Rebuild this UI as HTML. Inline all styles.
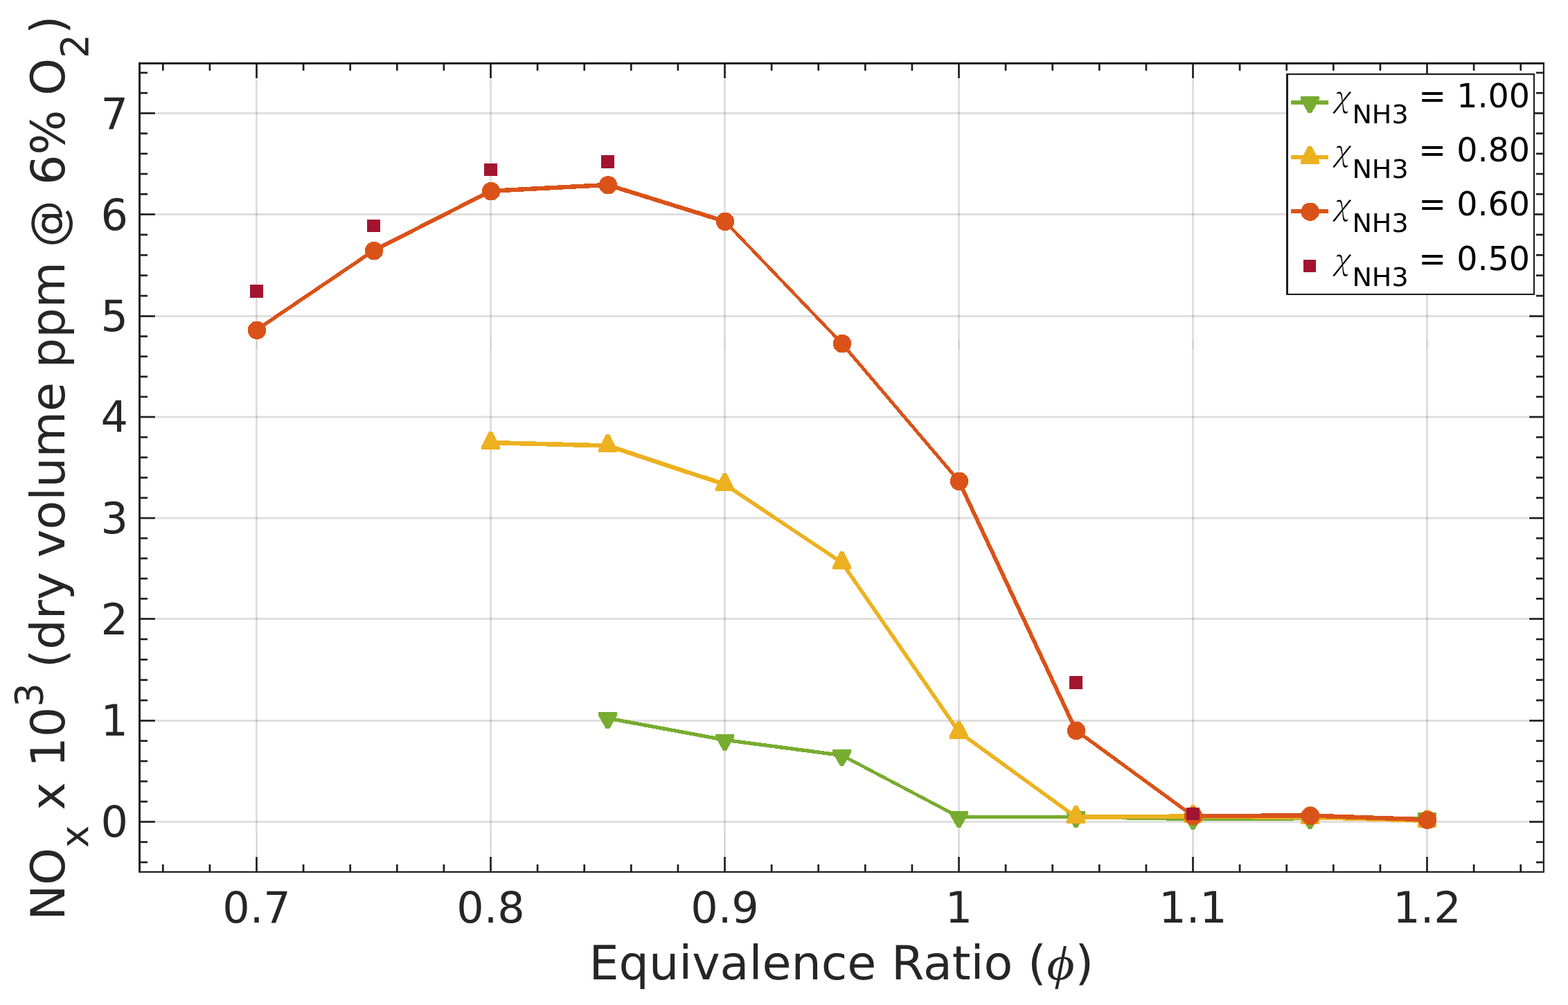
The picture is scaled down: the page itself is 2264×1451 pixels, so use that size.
<!DOCTYPE html>
<html lang="en"><head><meta charset="utf-8"><title>NOx vs Equivalence Ratio</title>
<style>html,body{margin:0;padding:0;background:#fff;overflow:hidden;}svg{display:block;}text{font-family:'DejaVu Sans','Liberation Sans',sans-serif;}</style></head><body>
<svg width="2264" height="1451" viewBox="0 0 2264 1451">
<rect x="0" y="0" width="2264" height="1451" fill="#ffffff"/>
<g stroke="#262626" stroke-opacity="0.15" stroke-width="3" fill="none"><line x1="370.50" y1="114" x2="370.50" y2="1201.8"/><line x1="708.50" y1="114" x2="708.50" y2="1201.8"/><line x1="1046.50" y1="114" x2="1046.50" y2="1201.8"/><line x1="1384.50" y1="114" x2="1384.50" y2="1201.8"/><line x1="1722.50" y1="114" x2="1722.50" y2="1201.8"/><line x1="2060.50" y1="114" x2="2060.50" y2="1201.8"/><line x1="225" y1="1186.50" x2="2207" y2="1186.50"/><line x1="225" y1="1040.50" x2="2207" y2="1040.50"/><line x1="225" y1="893.50" x2="2207" y2="893.50"/><line x1="225" y1="748.00" x2="2207" y2="748.00"/><line x1="225" y1="602.00" x2="2207" y2="602.00"/><line x1="225" y1="456.50" x2="2207" y2="456.50"/><line x1="225" y1="309.50" x2="2207" y2="309.50"/><line x1="225" y1="163.50" x2="2207" y2="163.50"/></g><g fill="#262626"><rect x="369.00" y="1201.8" width="3" height="34.2" fill-opacity="0.085"/><rect x="370.00" y="1201.8" width="1" height="34.2" fill-opacity="0.2"/><rect x="370.00" y="491" width="1" height="13" fill-opacity="0.13"/><rect x="707.00" y="1201.8" width="3" height="34.2" fill-opacity="0.085"/><rect x="708.00" y="1201.8" width="1" height="34.2" fill-opacity="0.2"/><rect x="708.00" y="491" width="1" height="13" fill-opacity="0.13"/><rect x="1045.00" y="1201.8" width="3" height="34.2" fill-opacity="0.085"/><rect x="1046.00" y="1201.8" width="1" height="34.2" fill-opacity="0.2"/><rect x="1046.00" y="491" width="1" height="13" fill-opacity="0.13"/><rect x="1383.00" y="1201.8" width="3" height="34.2" fill-opacity="0.085"/><rect x="1384.00" y="1201.8" width="1" height="34.2" fill-opacity="0.2"/><rect x="1384.00" y="491" width="1" height="13" fill-opacity="0.13"/><rect x="1721.00" y="1201.8" width="3" height="34.2" fill-opacity="0.085"/><rect x="1722.00" y="1201.8" width="1" height="34.2" fill-opacity="0.2"/><rect x="1722.00" y="491" width="1" height="13" fill-opacity="0.13"/><rect x="2059.00" y="1201.8" width="3" height="34.2" fill-opacity="0.085"/><rect x="2060.00" y="1201.8" width="1" height="34.2" fill-opacity="0.2"/><rect x="2060.00" y="491" width="1" height="13" fill-opacity="0.13"/></g>
<g fill="#77ac30" shape-rendering="crispEdges"><polygon points="877.5,1034.3 1046.5,1065.6 1046.5,1071.0 877.5,1039.7"/><polygon points="1046.5,1065.6 1215.5,1087.8 1215.5,1093.2 1046.5,1071.0"/><polygon points="1215.5,1087.8 1384.5,1176.7 1384.5,1182.1 1215.5,1093.2"/><polygon points="1384.5,1176.7 1553.5,1176.8 1553.5,1182.2 1384.5,1182.1"/><polygon points="1553.5,1176.8 1722.5,1179.8 1722.5,1185.2 1553.5,1182.2"/><polygon points="1722.5,1179.8 1891.5,1179.0 1891.5,1184.4 1722.5,1185.2"/><polygon points="1891.5,1179.0 2060.5,1179.3 2060.5,1184.7 1891.5,1184.4"/><polygon points="864.0,1028.2 891.0,1028.2 891.0,1033.0 880.1,1052.2 874.9,1052.2 864.0,1033.0"/><polygon points="1033.0,1059.5 1060.0,1059.5 1060.0,1064.3 1049.1,1083.5 1043.9,1083.5 1033.0,1064.3"/><polygon points="1202.0,1081.7 1229.0,1081.7 1229.0,1086.5 1218.1,1105.7 1212.9,1105.7 1202.0,1086.5"/><polygon points="1371.0,1170.6 1398.0,1170.6 1398.0,1175.4 1387.1,1194.6 1381.9,1194.6 1371.0,1175.4"/><polygon points="1540.0,1170.7 1567.0,1170.7 1567.0,1175.5 1556.1,1194.7 1550.9,1194.7 1540.0,1175.5"/><polygon points="1709.0,1173.7 1736.0,1173.7 1736.0,1178.5 1725.1,1197.7 1719.9,1197.7 1709.0,1178.5"/><polygon points="1878.0,1172.9 1905.0,1172.9 1905.0,1177.7 1894.1,1196.9 1888.9,1196.9 1878.0,1177.7"/><polygon points="2047.0,1173.2 2074.0,1173.2 2074.0,1178.0 2063.1,1197.2 2057.9,1197.2 2047.0,1178.0"/></g>
<g fill="#edb120" shape-rendering="crispEdges"><polygon points="708.5,635.8 877.5,640.2 877.5,646.8 708.5,642.4"/><polygon points="877.5,640.2 1046.5,696.1 1046.5,702.7 877.5,646.8"/><polygon points="1046.5,696.1 1215.5,808.9 1215.5,815.5 1046.5,702.7"/><polygon points="1212.2,812.2 1218.8,812.2 1387.8,1056.8 1381.2,1056.8"/><polygon points="1384.5,1053.5 1553.5,1176.3 1553.5,1182.9 1384.5,1060.1"/><polygon points="1553.5,1176.3 1722.5,1175.3 1722.5,1181.9 1553.5,1182.9"/><polygon points="1722.5,1175.3 1891.5,1176.5 1891.5,1183.1 1722.5,1181.9"/><polygon points="1891.5,1176.5 2060.5,1181.5 2060.5,1188.1 1891.5,1183.1"/><polygon points="706.0,622.9 711.0,622.9 721.8,644.1 721.8,648.9 695.2,648.9 695.2,644.1"/><polygon points="875.0,627.3 880.0,627.3 890.8,648.5 890.8,653.3 864.2,653.3 864.2,648.5"/><polygon points="1044.0,683.2 1049.0,683.2 1059.8,704.4 1059.8,709.2 1033.2,709.2 1033.2,704.4"/><polygon points="1213.0,796.0 1218.0,796.0 1228.8,817.2 1228.8,822.0 1202.2,822.0 1202.2,817.2"/><polygon points="1382.0,1040.6 1387.0,1040.6 1397.8,1061.8 1397.8,1066.6 1371.2,1066.6 1371.2,1061.8"/><polygon points="1551.0,1163.4 1556.0,1163.4 1566.8,1184.6 1566.8,1189.4 1540.2,1189.4 1540.2,1184.6"/><polygon points="1720.0,1162.4 1725.0,1162.4 1735.8,1183.6 1735.8,1188.4 1709.2,1188.4 1709.2,1183.6"/><polygon points="1889.0,1163.6 1894.0,1163.6 1904.8,1184.8 1904.8,1189.6 1878.2,1189.6 1878.2,1184.8"/><polygon points="2058.0,1168.6 2063.0,1168.6 2073.8,1189.8 2073.8,1194.6 2047.2,1194.6 2047.2,1189.8"/></g>
<g fill="#d95319" shape-rendering="crispEdges"><polygon points="370.5,473.1 539.5,358.6 539.5,365.0 370.5,479.5"/><polygon points="539.5,358.6 708.5,272.6 708.5,279.0 539.5,365.0"/><polygon points="708.5,272.6 877.5,263.7 877.5,270.1 708.5,279.0"/><polygon points="877.5,263.7 1046.5,316.3 1046.5,322.7 877.5,270.1"/><polygon points="1043.3,319.5 1049.7,319.5 1218.7,495.8 1212.3,495.8"/><polygon points="1212.3,495.8 1218.7,495.8 1387.7,694.5 1381.3,694.5"/><polygon points="1381.3,694.5 1387.7,694.5 1556.7,1054.5 1550.3,1054.5"/><polygon points="1553.5,1051.3 1722.5,1174.8 1722.5,1181.2 1553.5,1057.7"/><polygon points="1722.5,1174.8 1891.5,1174.3 1891.5,1180.7 1722.5,1181.2"/><polygon points="1891.5,1174.3 2060.5,1180.2 2060.5,1186.6 1891.5,1180.7"/><circle cx="371.0" cy="476.7" r="13.2"/><circle cx="540.0" cy="362.2" r="13.2"/><circle cx="709.0" cy="276.2" r="13.2"/><circle cx="878.0" cy="267.3" r="13.2"/><circle cx="1047.0" cy="319.9" r="13.2"/><circle cx="1216.0" cy="496.2" r="13.2"/><circle cx="1385.0" cy="694.9" r="13.2"/><circle cx="1554.0" cy="1054.9" r="13.2"/><circle cx="1723.0" cy="1178.4" r="13.2"/><circle cx="1892.0" cy="1177.9" r="13.2"/><circle cx="2061.0" cy="1183.8" r="13.2"/></g>
<g fill="#a2142f" shape-rendering="crispEdges"><rect x="361.2" y="411.1" width="18.6" height="18.6"/><rect x="530.2" y="316.6" width="18.6" height="18.6"/><rect x="699.2" y="235.7" width="18.6" height="18.6"/><rect x="868.2" y="224.2" width="18.6" height="18.6"/><rect x="1544.2" y="976.1" width="18.6" height="18.6"/><rect x="1713.2" y="1165.5" width="18.6" height="18.6"/></g>
<g stroke="#1e1e1e" stroke-width="2.7" fill="none"><line x1="235.30" y1="1259" x2="235.30" y2="1248.0"/><line x1="235.30" y1="91" x2="235.30" y2="102.0"/><line x1="302.90" y1="1259" x2="302.90" y2="1248.0"/><line x1="302.90" y1="91" x2="302.90" y2="102.0"/><line x1="370.50" y1="1259" x2="370.50" y2="1237.0"/><line x1="370.50" y1="91" x2="370.50" y2="113.0"/><line x1="438.10" y1="1259" x2="438.10" y2="1248.0"/><line x1="438.10" y1="91" x2="438.10" y2="102.0"/><line x1="505.70" y1="1259" x2="505.70" y2="1248.0"/><line x1="505.70" y1="91" x2="505.70" y2="102.0"/><line x1="573.30" y1="1259" x2="573.30" y2="1248.0"/><line x1="573.30" y1="91" x2="573.30" y2="102.0"/><line x1="640.90" y1="1259" x2="640.90" y2="1248.0"/><line x1="640.90" y1="91" x2="640.90" y2="102.0"/><line x1="708.50" y1="1259" x2="708.50" y2="1237.0"/><line x1="708.50" y1="91" x2="708.50" y2="113.0"/><line x1="776.10" y1="1259" x2="776.10" y2="1248.0"/><line x1="776.10" y1="91" x2="776.10" y2="102.0"/><line x1="843.70" y1="1259" x2="843.70" y2="1248.0"/><line x1="843.70" y1="91" x2="843.70" y2="102.0"/><line x1="911.30" y1="1259" x2="911.30" y2="1248.0"/><line x1="911.30" y1="91" x2="911.30" y2="102.0"/><line x1="978.90" y1="1259" x2="978.90" y2="1248.0"/><line x1="978.90" y1="91" x2="978.90" y2="102.0"/><line x1="1046.50" y1="1259" x2="1046.50" y2="1237.0"/><line x1="1046.50" y1="91" x2="1046.50" y2="113.0"/><line x1="1114.10" y1="1259" x2="1114.10" y2="1248.0"/><line x1="1114.10" y1="91" x2="1114.10" y2="102.0"/><line x1="1181.70" y1="1259" x2="1181.70" y2="1248.0"/><line x1="1181.70" y1="91" x2="1181.70" y2="102.0"/><line x1="1249.30" y1="1259" x2="1249.30" y2="1248.0"/><line x1="1249.30" y1="91" x2="1249.30" y2="102.0"/><line x1="1316.90" y1="1259" x2="1316.90" y2="1248.0"/><line x1="1316.90" y1="91" x2="1316.90" y2="102.0"/><line x1="1384.50" y1="1259" x2="1384.50" y2="1237.0"/><line x1="1384.50" y1="91" x2="1384.50" y2="113.0"/><line x1="1452.10" y1="1259" x2="1452.10" y2="1248.0"/><line x1="1452.10" y1="91" x2="1452.10" y2="102.0"/><line x1="1519.70" y1="1259" x2="1519.70" y2="1248.0"/><line x1="1519.70" y1="91" x2="1519.70" y2="102.0"/><line x1="1587.30" y1="1259" x2="1587.30" y2="1248.0"/><line x1="1587.30" y1="91" x2="1587.30" y2="102.0"/><line x1="1654.90" y1="1259" x2="1654.90" y2="1248.0"/><line x1="1654.90" y1="91" x2="1654.90" y2="102.0"/><line x1="1722.50" y1="1259" x2="1722.50" y2="1237.0"/><line x1="1722.50" y1="91" x2="1722.50" y2="113.0"/><line x1="1790.10" y1="1259" x2="1790.10" y2="1248.0"/><line x1="1790.10" y1="91" x2="1790.10" y2="102.0"/><line x1="1857.70" y1="1259" x2="1857.70" y2="1248.0"/><line x1="1857.70" y1="91" x2="1857.70" y2="102.0"/><line x1="1925.30" y1="1259" x2="1925.30" y2="1248.0"/><line x1="1925.30" y1="91" x2="1925.30" y2="102.0"/><line x1="1992.90" y1="1259" x2="1992.90" y2="1248.0"/><line x1="1992.90" y1="91" x2="1992.90" y2="102.0"/><line x1="2060.50" y1="1259" x2="2060.50" y2="1237.0"/><line x1="2060.50" y1="91" x2="2060.50" y2="113.0"/><line x1="2128.10" y1="1259" x2="2128.10" y2="1248.0"/><line x1="2128.10" y1="91" x2="2128.10" y2="102.0"/><line x1="2195.70" y1="1259" x2="2195.70" y2="1248.0"/><line x1="2195.70" y1="91" x2="2195.70" y2="102.0"/><line x1="201" y1="1244.96" x2="213.0" y2="1244.96"/><line x1="2229" y1="1244.96" x2="2218.0" y2="1244.96"/><line x1="201" y1="1215.73" x2="213.0" y2="1215.73"/><line x1="2229" y1="1215.73" x2="2218.0" y2="1215.73"/><line x1="201" y1="1186.50" x2="224.0" y2="1186.50"/><line x1="2229" y1="1186.50" x2="2208.0" y2="1186.50"/><line x1="201" y1="1157.30" x2="213.0" y2="1157.30"/><line x1="2229" y1="1157.30" x2="2218.0" y2="1157.30"/><line x1="201" y1="1128.10" x2="213.0" y2="1128.10"/><line x1="2229" y1="1128.10" x2="2218.0" y2="1128.10"/><line x1="201" y1="1098.90" x2="213.0" y2="1098.90"/><line x1="2229" y1="1098.90" x2="2218.0" y2="1098.90"/><line x1="201" y1="1069.70" x2="213.0" y2="1069.70"/><line x1="2229" y1="1069.70" x2="2218.0" y2="1069.70"/><line x1="201" y1="1040.50" x2="224.0" y2="1040.50"/><line x1="2229" y1="1040.50" x2="2208.0" y2="1040.50"/><line x1="201" y1="1011.10" x2="213.0" y2="1011.10"/><line x1="2229" y1="1011.10" x2="2218.0" y2="1011.10"/><line x1="201" y1="981.70" x2="213.0" y2="981.70"/><line x1="2229" y1="981.70" x2="2218.0" y2="981.70"/><line x1="201" y1="952.30" x2="213.0" y2="952.30"/><line x1="2229" y1="952.30" x2="2218.0" y2="952.30"/><line x1="201" y1="922.90" x2="213.0" y2="922.90"/><line x1="2229" y1="922.90" x2="2218.0" y2="922.90"/><line x1="201" y1="893.50" x2="224.0" y2="893.50"/><line x1="2229" y1="893.50" x2="2208.0" y2="893.50"/><line x1="201" y1="864.40" x2="213.0" y2="864.40"/><line x1="2229" y1="864.40" x2="2218.0" y2="864.40"/><line x1="201" y1="835.30" x2="213.0" y2="835.30"/><line x1="2229" y1="835.30" x2="2218.0" y2="835.30"/><line x1="201" y1="806.20" x2="213.0" y2="806.20"/><line x1="2229" y1="806.20" x2="2218.0" y2="806.20"/><line x1="201" y1="777.10" x2="213.0" y2="777.10"/><line x1="2229" y1="777.10" x2="2218.0" y2="777.10"/><line x1="201" y1="748.00" x2="224.0" y2="748.00"/><line x1="2229" y1="748.00" x2="2208.0" y2="748.00"/><line x1="201" y1="718.80" x2="213.0" y2="718.80"/><line x1="2229" y1="718.80" x2="2218.0" y2="718.80"/><line x1="201" y1="689.60" x2="213.0" y2="689.60"/><line x1="2229" y1="689.60" x2="2218.0" y2="689.60"/><line x1="201" y1="660.40" x2="213.0" y2="660.40"/><line x1="2229" y1="660.40" x2="2218.0" y2="660.40"/><line x1="201" y1="631.20" x2="213.0" y2="631.20"/><line x1="2229" y1="631.20" x2="2218.0" y2="631.20"/><line x1="201" y1="602.00" x2="224.0" y2="602.00"/><line x1="2229" y1="602.00" x2="2208.0" y2="602.00"/><line x1="201" y1="572.90" x2="213.0" y2="572.90"/><line x1="2229" y1="572.90" x2="2218.0" y2="572.90"/><line x1="201" y1="543.80" x2="213.0" y2="543.80"/><line x1="2229" y1="543.80" x2="2218.0" y2="543.80"/><line x1="201" y1="514.70" x2="213.0" y2="514.70"/><line x1="2229" y1="514.70" x2="2218.0" y2="514.70"/><line x1="201" y1="485.60" x2="213.0" y2="485.60"/><line x1="2229" y1="485.60" x2="2218.0" y2="485.60"/><line x1="201" y1="456.50" x2="224.0" y2="456.50"/><line x1="2229" y1="456.50" x2="2208.0" y2="456.50"/><line x1="201" y1="427.10" x2="213.0" y2="427.10"/><line x1="2229" y1="427.10" x2="2218.0" y2="427.10"/><line x1="201" y1="397.70" x2="213.0" y2="397.70"/><line x1="2229" y1="397.70" x2="2218.0" y2="397.70"/><line x1="201" y1="368.30" x2="213.0" y2="368.30"/><line x1="2229" y1="368.30" x2="2218.0" y2="368.30"/><line x1="201" y1="338.90" x2="213.0" y2="338.90"/><line x1="2229" y1="338.90" x2="2218.0" y2="338.90"/><line x1="201" y1="309.50" x2="224.0" y2="309.50"/><line x1="2229" y1="309.50" x2="2208.0" y2="309.50"/><line x1="201" y1="280.30" x2="213.0" y2="280.30"/><line x1="2229" y1="280.30" x2="2218.0" y2="280.30"/><line x1="201" y1="251.10" x2="213.0" y2="251.10"/><line x1="2229" y1="251.10" x2="2218.0" y2="251.10"/><line x1="201" y1="221.90" x2="213.0" y2="221.90"/><line x1="2229" y1="221.90" x2="2218.0" y2="221.90"/><line x1="201" y1="192.70" x2="213.0" y2="192.70"/><line x1="2229" y1="192.70" x2="2218.0" y2="192.70"/><line x1="201" y1="163.50" x2="224.0" y2="163.50"/><line x1="2229" y1="163.50" x2="2208.0" y2="163.50"/><line x1="201" y1="134.27" x2="213.0" y2="134.27"/><line x1="2229" y1="134.27" x2="2218.0" y2="134.27"/><line x1="201" y1="105.04" x2="213.0" y2="105.04"/><line x1="2229" y1="105.04" x2="2218.0" y2="105.04"/></g>
<g fill="#1e1e1e"><rect x="200" y="90" width="3" height="1170"/><rect x="200" y="90" width="2030" height="3"/><rect x="2227.8" y="90" width="2.2" height="1170"/><rect x="200" y="1257.8" width="2030" height="2.2"/></g>
<g fill="#262626" font-size="62"><text x="370.5" y="1332.2" text-anchor="middle">0.7</text><text x="708.5" y="1332.2" text-anchor="middle">0.8</text><text x="1046.5" y="1332.2" text-anchor="middle">0.9</text><text x="1384.5" y="1332.2" text-anchor="middle">1</text><text x="1722.5" y="1332.2" text-anchor="middle">1.1</text><text x="2060.5" y="1332.2" text-anchor="middle">1.2</text><text x="185.0" y="1207.9" text-anchor="end">0</text><text x="185.0" y="1061.9" text-anchor="end">1</text><text x="185.0" y="915.9" text-anchor="end">2</text><text x="185.0" y="770.0" text-anchor="end">3</text><text x="185.0" y="624.0" text-anchor="end">4</text><text x="185.0" y="478.0" text-anchor="end">5</text><text x="185.0" y="332.0" text-anchor="end">6</text><text x="185.0" y="186.0" text-anchor="end">7</text></g>
<text y="1414.0" fill="#262626" font-size="68.3"><tspan x="850.4">Equivalence Ratio (</tspan><tspan x="1511.5" font-family="'Liberation Serif','DejaVu Serif',serif" font-style="italic" font-size="68.3" textLength="40.0" lengthAdjust="spacingAndGlyphs">ϕ</tspan><tspan x="1552.4">)</tspan></text>
<text transform="translate(93.0,674.0) rotate(-90)" x="-654.77" fill="#262626" font-size="68.3">NO<tspan font-size="54.64" dy="34">x</tspan><tspan dy="-34"> x 10</tspan><tspan font-size="54.64" dy="-32">3</tspan><tspan dy="32"> (dry </tspan><tspan dx="-0.8">volume </tspan><tspan dx="-1">ppm </tspan><tspan dx="-0.90">@ </tspan><tspan dx="0.10">6% </tspan><tspan dx="-0.70">O</tspan><tspan font-size="54.64" dy="34">2</tspan><tspan dy="-34">)</tspan></text>
<rect x="1857" y="106" width="359" height="320" fill="#ffffff"/>
<g fill="#1e1e1e"><rect x="1857" y="106" width="3" height="320"/><rect x="1857" y="106" width="359" height="2.2"/><rect x="2213.9" y="106" width="2.1" height="320"/><rect x="1857" y="423.9" width="359" height="2.1"/></g>
<g fill="#77ac30" shape-rendering="crispEdges"><polygon points="1864.1,144.9 1918.0,144.9 1918.0,150.9 1864.1,150.9"/><polygon points="1877.7,139.1 1904.7,139.1 1904.7,143.9 1893.8,163.1 1888.6,163.1 1877.7,143.9"/></g>
<text y="154.8" fill="#000000" font-size="47.5"><tspan x="1924.6" dy="0.0" font-family="'Noto Serif CJK SC','Liberation Serif','DejaVu Serif',serif" font-weight="300" font-style="italic" font-size="43">χ</tspan><tspan x="1952.4" font-size="38" dy="23.4">NH3</tspan><tspan x="2048.3" dy="-23.4">= 1.00</tspan></text>
<g fill="#edb120" shape-rendering="crispEdges"><polygon points="1864.1,224.1 1918.0,224.1 1918.0,230.1 1864.1,230.1"/><polygon points="1888.7,210.9 1893.7,210.9 1904.5,232.1 1904.5,236.9 1877.9,236.9 1877.9,232.1"/></g>
<text y="233.1" fill="#000000" font-size="47.5"><tspan x="1924.6" dy="0.0" font-family="'Noto Serif CJK SC','Liberation Serif','DejaVu Serif',serif" font-weight="300" font-style="italic" font-size="43">χ</tspan><tspan x="1952.4" font-size="38" dy="23.4">NH3</tspan><tspan x="2048.3" dy="-23.4">= 0.80</tspan></text>
<g fill="#d95319" shape-rendering="crispEdges"><polygon points="1864.1,302.3 1918.0,302.3 1918.0,308.3 1864.1,308.3"/><circle cx="1891.7" cy="305.7" r="13.2"/></g>
<text y="311.4" fill="#000000" font-size="47.5"><tspan x="1924.6" dy="0.0" font-family="'Noto Serif CJK SC','Liberation Serif','DejaVu Serif',serif" font-weight="300" font-style="italic" font-size="43">χ</tspan><tspan x="1952.4" font-size="38" dy="23.4">NH3</tspan><tspan x="2048.3" dy="-23.4">= 0.60</tspan></text>
<rect x="1882.0" y="375.0" width="18" height="18" fill="#a2142f" shape-rendering="crispEdges"/>
<text y="389.6" fill="#000000" font-size="47.5"><tspan x="1924.6" dy="0.0" font-family="'Noto Serif CJK SC','Liberation Serif','DejaVu Serif',serif" font-weight="300" font-style="italic" font-size="43">χ</tspan><tspan x="1952.4" font-size="38" dy="23.4">NH3</tspan><tspan x="2048.3" dy="-23.4">= 0.50</tspan></text>
</svg></body></html>
